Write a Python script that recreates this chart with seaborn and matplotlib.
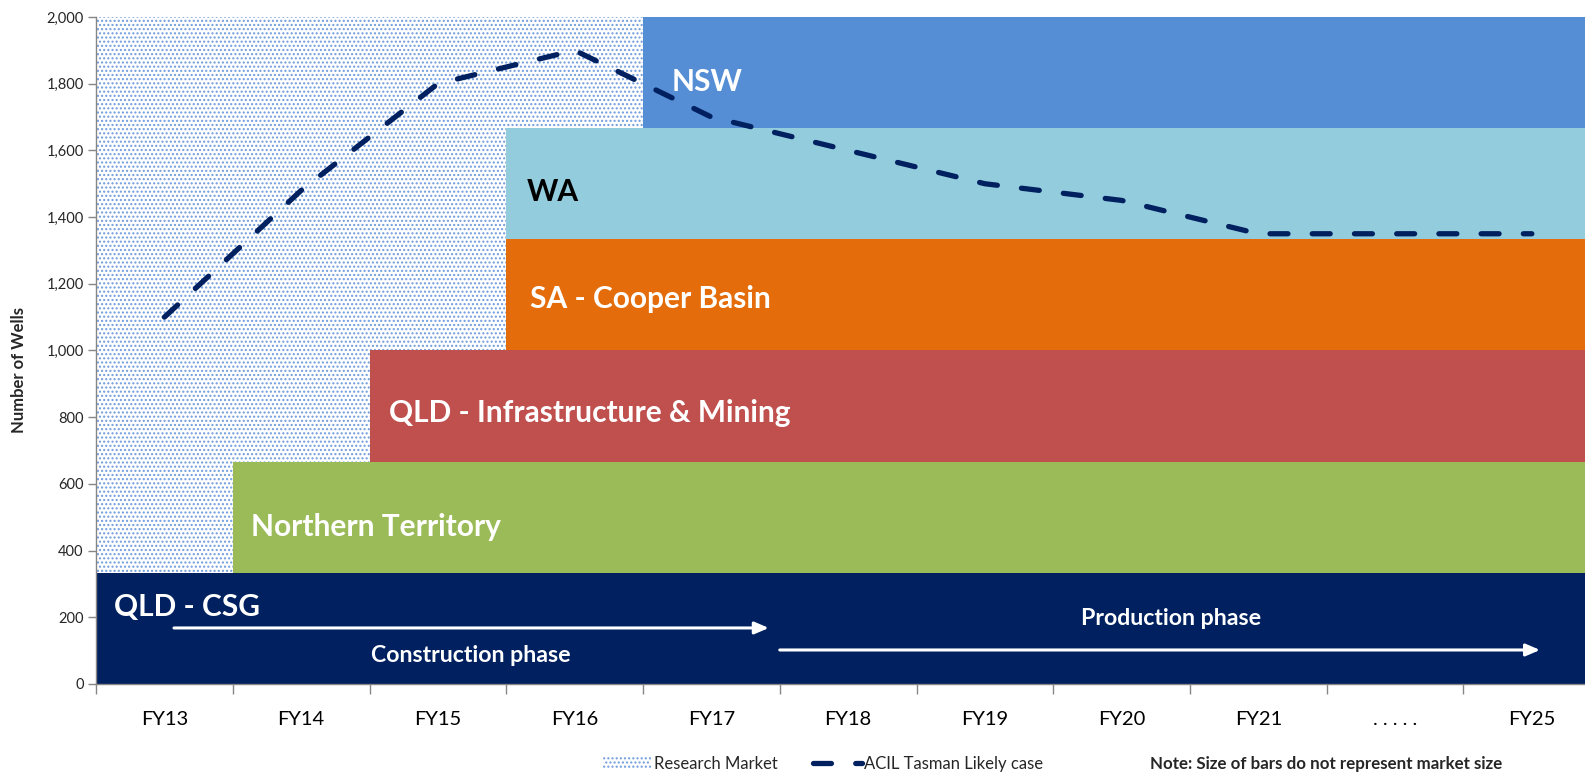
import matplotlib
matplotlib.use("Agg")
import matplotlib.pyplot as plt
from matplotlib.patches import Patch
from matplotlib.lines import Line2D
from matplotlib.ticker import FuncFormatter, FixedLocator
import seaborn as sns
import numpy as np
import pandas as pd

# Financial years on the horizontal axis
years = ["FY13", "FY14", "FY15", "FY16", "FY17", "FY18", "FY19", "FY20", "FY21", ". . . . .", "FY25"]

# Market segments, stacked bottom to top, with the year each one enters
segments = ["QLD - CSG", "Northern Territory", "QLD - Infrastructure & Mining",
            "SA - Cooper Basin", "WA", "NSW"]
segment_start = ["FY13", "FY14", "FY15", "FY16", "FY16", "FY17"]
segment_colors = ["#002060", "#9BBB59", "#C0504D", "#E46C0A", "#93CDDD", "#558ED5"]
segment_text = ["white", "white", "white", "white", "black", "white"]

# Research market spans these years
research_years = ["FY13", "FY14", "FY15", "FY16"]

# ACIL Tasman likely case: number of wells
likely_case = [1100, 1480, 1800, 1900, 1700, 1600, 1500, 1450, 1350, 1350, 1350]

y_max = 2000
band = y_max / len(segments)

sns.set_theme(style="white")
plt.rcParams["font.family"] = ["Lato", "DejaVu Sans"]
plt.rcParams["hatch.linewidth"] = 1.0

fig = plt.figure(figsize=(15.85, 7.72), dpi=100)
# the plot area runs slightly past the right edge of the canvas
ax = fig.add_axes([0.0606, 0.114, 0.949, 0.864])

n = len(years)
xpos = {y: i for i, y in enumerate(years)}

# research market: dotted background
r0 = xpos[research_years[0]]
r1 = xpos[research_years[-1]]
ax.bar(r0 - 0.5, y_max, width=r1 - r0 + 1, align="edge", bottom=0,
       facecolor="white", edgecolor="#6F9BDB", hatch="....", linewidth=0, zorder=1)

# segment bands with their names
label_dx = [0.13, 0.13, 0.145, 0.175, 0.15, 0.21]
label_dy = [232 - band * 0.5, -28, -22, -13, -25, -27]
for k, (seg, start, col, tc) in enumerate(zip(segments, segment_start, segment_colors, segment_text)):
    s = xpos[start]
    bottom = k * band
    ax.barh(bottom, width=n - s, left=s - 0.5, height=band, align="edge",
            color=col, linewidth=0, zorder=2)
    ax.text(s - 0.5 + label_dx[k], bottom + band / 2 + label_dy[k], seg, color=tc,
            fontsize=21.5, fontweight="bold", va="center", ha="left", zorder=4)

# likely case line
df = pd.DataFrame({"x": np.arange(n), "wells": likely_case})
sns.lineplot(data=df, x="x", y="wells", ax=ax, color="#002060", linewidth=3.8,
             zorder=5, legend=False)
line = ax.lines[-1]
line.set_dashes((3.4, 4.6))
line.set_dash_capstyle("round")

# construction / production phase arrows
arrow_kw = dict(arrowstyle="-|>,head_length=0.7,head_width=0.3", color="white", lw=2.2,
                shrinkA=0, shrinkB=0)
ax.annotate("", xy=(4.42, 168), xytext=(0.07, 168), arrowprops=arrow_kw, zorder=6)
ax.annotate("", xy=(10.06, 102), xytext=(4.50, 102), arrowprops=arrow_kw, zorder=6)
ax.text(2.24, 84, "Construction phase", color="white", fontsize=16.7, fontweight="bold",
        ha="center", va="center", zorder=6)
ax.text(7.36, 196, "Production phase", color="white", fontsize=16.7, fontweight="bold",
        ha="center", va="center", zorder=6)

# axes
ax.set_xlim(-0.5, n - 0.5)
ax.set_ylim(0, y_max)
ax.set_yticks(np.arange(0, y_max + 1, 200))
ax.yaxis.set_major_formatter(FuncFormatter(lambda v, p: f"{int(v):,}"))
ax.set_xticks(np.arange(n))
ax.set_xticklabels(years)
ax.xaxis.set_minor_locator(FixedLocator(np.arange(-0.5, n, 1.0)))
ax.tick_params(axis="x", which="major", length=0, labelsize=14.5, pad=19.5, colors="black")
ax.tick_params(axis="x", which="minor", length=7, width=1, color="#868686", bottom=True)
ax.tick_params(axis="y", which="major", length=6, width=1, color="#868686", left=True,
               labelsize=10.5, pad=3)
for side in ["top", "right"]:
    ax.spines[side].set_visible(False)
for side in ["left", "bottom"]:
    ax.spines[side].set_color("#868686")
    ax.spines[side].set_linewidth(1)
    ax.spines[side].set_zorder(7)
ax.set_xlabel("")
ax.set_ylabel("Number of Wells", fontsize=12, fontweight="bold")
ax.yaxis.set_label_coords(-0.0457, 0.47)

# legend along the bottom
handles = [Patch(facecolor="white", edgecolor="#6F9BDB", hatch="....", linewidth=0),
           Line2D([0], [0], color="#002060", linewidth=3.8, dashes=(3.4, 4.6),
                  dash_capstyle="round")]
fig.legend(handles, ["Research Market", "ACIL Tasman Likely case"], loc="center",
           bbox_to_anchor=(0.5194, 0.011), ncol=2, frameon=False, fontsize=12,
           handlelength=2.9, handleheight=0.6, columnspacing=2.15, handletextpad=0.15)
fig.text(0.8366, 0.011, "Note: Size of bars do not represent market size", ha="center",
         va="center", fontsize=12.2, fontweight="bold")

fig.savefig("out.png", dpi=100)
